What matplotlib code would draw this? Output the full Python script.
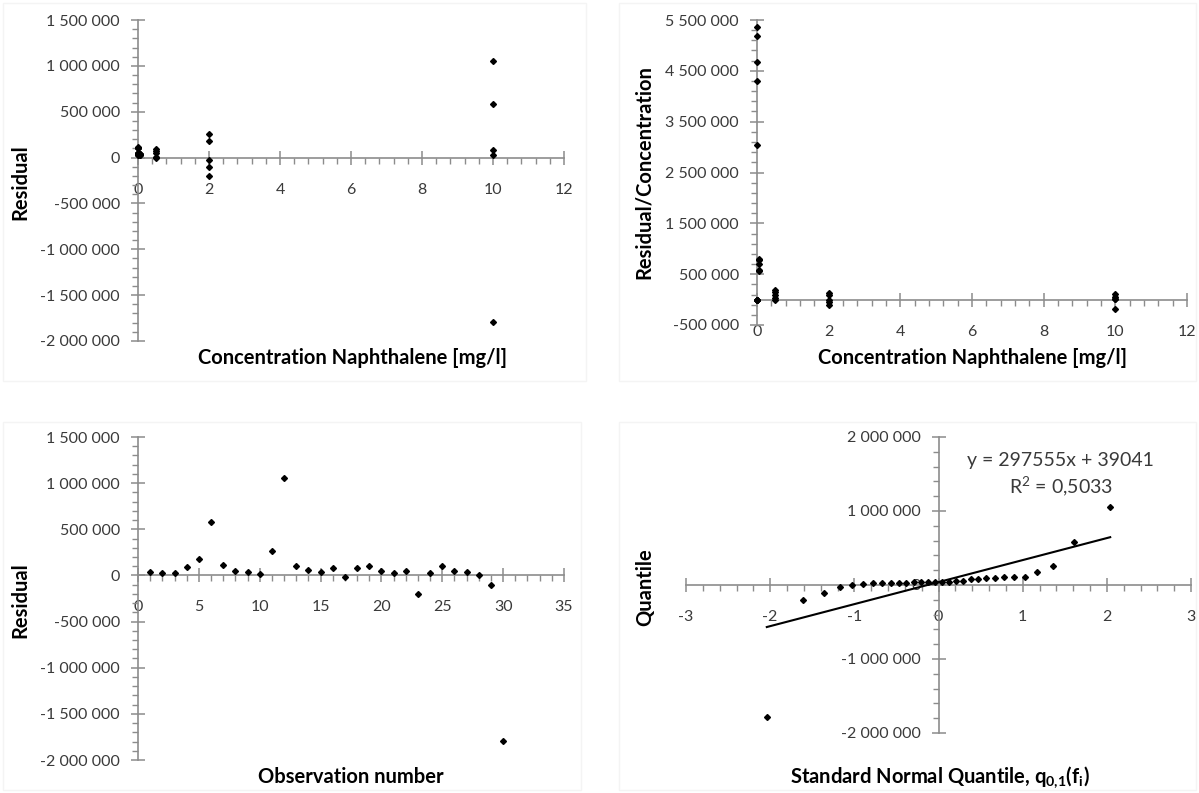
import numpy as np
import matplotlib
matplotlib.use("Agg")
import matplotlib.pyplot as plt
from matplotlib.ticker import FixedLocator, FuncFormatter

plt.rcParams['font.family'] = ['Lato', 'DejaVu Sans']
plt.rcParams['mathtext.fontset'] = 'custom'
plt.rcParams['mathtext.rm'] = 'Lato'
plt.rcParams['mathtext.bf'] = 'Lato:bold'

# naphthalene calibration: 5 series of 6 standards [mg/l]
concentration = [0, 0.01, 0.05, 0.5, 2, 10,
                 0, 0.01, 0.05, 0.5, 2, 10,
                 0, 0.01, 0.05, 0.5, 2, 10,
                 0, 0.01, 0.05, 0.5, 2, 10,
                 0, 0.01, 0.05, 0.5, 2, 10]

# residuals of the linear calibration fit, in observation order
residual = [33000, 30500, 29000, 94000, 178000, 583000,
            112000, 51900, 39000, 11000, 261000, 1054000,
            105000, 53700, 39500, 76000, -22000, 80000,
            105000, 46700, 28500, 47000, -196000, 29000,
            101000, 43000, 35000, 0, -105000, -1790000]

observation = list(range(1, 31))

# standard normal quantiles of the plotting positions (Blom), n = 30
normal_quantile = [-2.040, -1.610, -1.361, -1.176, -1.024, -0.893, -0.776, -0.668,
                   -0.568, -0.473, -0.382, -0.294, -0.209, -0.125, -0.041,
                   0.041, 0.125, 0.209, 0.294, 0.382, 0.473, 0.568, 0.668,
                   0.776, 0.893, 1.024, 1.176, 1.361, 1.610, 2.040]

trend_slope = 297555
trend_intercept = 39041
trend_r2 = '0,5033'

W, H = 1199, 793
AXIS_GREY = '#8c8c8c'
TICK_TXT = '#3a3a3a'


def space_thousands(v, pos):
    return '{:,}'.format(int(round(v))).replace(',', ' ')


def px_box(x0, x1, y0, y1):
    ''' axes box from pixel coords (left, right, top, bottom) '''
    return [x0 / W, 1 - y1 / H, (x1 - x0) / W, (y1 - y0) / H]


def excel_axes(ax, xlim, ylim, xmajor, xminor, ymajor, yminor):
    ax.set_xlim(*xlim)
    ax.set_ylim(*ylim)
    for side in ('top', 'right'):
        ax.spines[side].set_visible(False)
    for side in ('left', 'bottom'):
        ax.spines[side].set_position(('data', 0))
        ax.spines[side].set_color(AXIS_GREY)
        ax.spines[side].set_linewidth(1.2)
    ax.xaxis.set_major_locator(FixedLocator(xmajor))
    ax.xaxis.set_minor_locator(FixedLocator(xminor))
    ax.yaxis.set_major_locator(FixedLocator(ymajor))
    ax.yaxis.set_minor_locator(FixedLocator(yminor))
    ax.yaxis.set_major_formatter(FuncFormatter(space_thousands))
    ax.xaxis.set_major_formatter(FuncFormatter(lambda v, p: '{:g}'.format(v)))
    ax.tick_params(which='major', direction='inout', length=10, width=1.1,
                   color=AXIS_GREY, labelsize=11.5, labelcolor=TICK_TXT)
    ax.tick_params(which='minor', direction='out', length=4, width=1.0,
                   color=AXIS_GREY)
    ax.tick_params(axis='x', which='major', pad=13)
    ax.tick_params(axis='y', which='major', pad=8)
    ax.patch.set_alpha(0)


def title_text(fig, x, y, s, rot=0):
    fig.text(x / W, 1 - y / H, s, ha='center', va='center', rotation=rot,
             fontsize=14.5, fontweight='bold', color='black')


fig = plt.figure(figsize=(W / 100, H / 100), dpi=100)

# faint chart-area frames
for (x0, x1, y0, y1) in [(3, 586, 3, 381), (619, 1196, 3, 381),
                         (3, 581, 422, 790), (619, 1196, 422, 790)]:
    fig.add_artist(plt.Rectangle((x0 / W, 1 - y1 / H), (x1 - x0) / W, (y1 - y0) / H,
                                 transform=fig.transFigure, fill=False,
                                 edgecolor='#f4f4f4', lw=1))

conc = np.array(concentration, dtype=float)
res = np.array(residual, dtype=float)
# zero-concentration blanks end up at 0 (division undefined)
ratio = np.where(conc > 0, res / np.where(conc > 0, conc, 1), 0)

mk = dict(ls='none', marker='D', ms=3.0, color='black', zorder=4, clip_on=False)

# residual vs concentration
ax1 = fig.add_axes(px_box(138, 564, 20, 341))
excel_axes(ax1, (0, 12), (-2e6, 1.5e6),
           np.arange(0, 13, 2), np.arange(0, 12.01, 0.4),
           np.arange(-2e6, 1.5e6 + 1, 5e5), np.arange(-2e6, 1.5e6 + 1, 1e5))
ax1.plot(conc, res, **mk)
title_text(fig, 20, 182, 'Residual', 90)
title_text(fig, 352, 358, 'Concentration Naphthalene [mg/l]')

# residual / concentration vs concentration
ax2 = fig.add_axes(px_box(757, 1187, 20, 325))
excel_axes(ax2, (0, 12), (-5e5, 5.5e6),
           np.arange(0, 13, 2), np.arange(0, 12.01, 0.4),
           np.arange(-5e5, 5.5e6 + 1, 1e6), np.arange(-5e5, 5.5e6 + 1, 2e5))
ax2.plot(conc, ratio, **mk)
title_text(fig, 644, 172, 'Residual/Concentration', 90)
title_text(fig, 973, 358, 'Concentration Naphthalene [mg/l]')

# residual vs observation number
ax3 = fig.add_axes(px_box(138, 564, 437, 760))
excel_axes(ax3, (0, 35), (-2e6, 1.5e6),
           np.arange(0, 36, 5), np.arange(0, 36, 1),
           np.arange(-2e6, 1.5e6 + 1, 5e5), np.arange(-2e6, 1.5e6 + 1, 1e5))
ax3.plot(observation, res, **mk)
title_text(fig, 20, 600, 'Residual', 90)
title_text(fig, 351, 777, 'Observation number')

# normal quantile plot with linear trend
ax4 = fig.add_axes(px_box(686, 1191, 437, 733))
excel_axes(ax4, (-3, 3), (-2e6, 2e6),
           np.arange(-3, 3.01, 1), np.arange(-3, 3.01, 0.2),
           np.arange(-2e6, 2e6 + 1, 1e6), np.arange(-2e6, 2e6 + 1, 2e5))
qx = np.array(normal_quantile)
ax4.plot(qx, np.sort(res), **mk)
tx = np.array([qx.min(), qx.max()])
ax4.plot(tx, trend_slope * tx + trend_intercept, color='black', lw=1.5, zorder=3)
fig.text(1060 / W, 1 - 460 / H, 'y = {}x + {}'.format(trend_slope, trend_intercept),
         ha='center', va='center', fontsize=14, color=TICK_TXT)
fig.text(1061 / W, 1 - 487 / H, 'R$^2$ = ' + trend_r2,
         ha='center', va='center', fontsize=14, color=TICK_TXT)
title_text(fig, 645, 587, 'Quantile', 90)
title_text(fig, 940, 777, r'Standard Normal Quantile, q$_{\mathbf{0{,}1}}$(f$_{\mathbf{i}}$)')

fig.savefig('out.png', dpi=100)
